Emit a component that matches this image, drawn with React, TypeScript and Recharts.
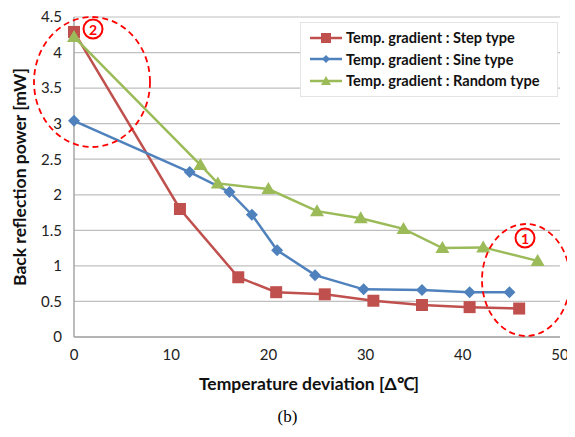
import React from 'react';
import { LineChart, Line, XAxis, YAxis, CartesianGrid } from 'recharts';

// Values
const stepX = [0, 10.9, 16.9, 20.8, 25.8, 30.8, 35.8, 40.7, 45.8];
const stepY = [4.29, 1.8, 0.84, 0.63, 0.6, 0.51, 0.45, 0.42, 0.4];
const sineX = [0, 11.9, 16, 18.3, 20.9, 24.8, 29.8, 35.8, 40.7, 44.8];
const sineY = [3.04, 2.32, 2.04, 1.72, 1.22, 0.87, 0.67, 0.66, 0.63, 0.63];
const randX = [0, 13, 14.8, 20, 25, 29.5, 33.9, 37.9, 42.1, 47.7];
const randY = [4.22, 2.42, 2.16, 2.08, 1.77, 1.67, 1.52, 1.25, 1.26, 1.07];

const xTicks = [0, 10, 20, 30, 40, 50];
const yTicks = [0, 0.5, 1, 1.5, 2, 2.5, 3, 3.5, 4, 4.5];

const seriesNames = [
  'Temp. gradient : Step type',
  'Temp. gradient : Sine type',
  'Temp. gradient : Random type'
];

const COLORS = ['#C0504D', '#4F81BD', '#9BBB59'];
const FONT = 'Lato, "Open Sans", sans-serif';

const toPoints = (xs: number[], ys: number[]) => xs.map((x, i) => ({ x, y: ys[i] }));

const stepData = toPoints(stepX, stepY);
const sineData = toPoints(sineX, sineY);
const randData = toPoints(randX, randY);

const Square = (props: any) => {
  const { cx, cy, index } = props;
  return <rect key={`s-${index}`} x={cx - 6} y={cy - 6} width={12} height={12} fill={COLORS[0]} />;
};

const Diamond = (props: any) => {
  const { cx, cy, index } = props;
  const r = 6;
  return (
    <polygon
      key={`d-${index}`}
      points={`${cx},${cy - r} ${cx + r},${cy} ${cx},${cy + r} ${cx - r},${cy}`}
      fill={COLORS[1]}
    />
  );
};

const Triangle = (props: any) => {
  const { cx, cy, index } = props;
  return (
    <polygon
      key={`t-${index}`}
      points={`${cx},${cy - 7} ${cx + 7},${cy + 5} ${cx - 7},${cy + 5}`}
      fill={COLORS[2]}
    />
  );
};

const markerFor = (i: number, cx: number, cy: number) => {
  if (i === 0) return <rect x={cx - 5} y={cy - 5} width={10} height={10} fill={COLORS[0]} />;
  if (i === 1) return <polygon points={`${cx},${cy - 4} ${cx + 4},${cy} ${cx},${cy + 4} ${cx - 4},${cy}`} fill={COLORS[1]} />;
  return <polygon points={`${cx},${cy - 5} ${cx + 5},${cy + 4} ${cx - 5},${cy + 4}`} fill={COLORS[2]} />;
};

// legend sits over the gridlines like the Excel one, so it is an overlay
const LegendBox = () => (
  <div
    style={{
      position: 'absolute',
      left: 300,
      top: 22,
      width: 258,
      boxSizing: 'border-box',
      background: '#fff',
      border: '1px solid #e4e4e4',
      padding: '4px 6px 4px 8px',
      fontFamily: FONT,
      fontWeight: 700,
      fontSize: 14.6,
      color: '#111'
    }}
  >
    {seriesNames.map((name, i) => (
      <div key={name} style={{ display: 'flex', alignItems: 'center', height: 21.5, whiteSpace: 'nowrap' }}>
        <svg width={34} height={14} style={{ marginRight: 3 }}>
          <line x1={1} y1={7} x2={33} y2={7} stroke={COLORS[i]} strokeWidth={2.5} />
          {markerFor(i, 17, 7)}
        </svg>
        <span>{name}</span>
      </div>
    ))}
  </div>
);

export default function App() {
  return (
    <div style={{ position: 'relative', width: 575, height: 437, margin: -8, background: '#fff' }}>
      <LineChart width={575} height={400} margin={{ top: 17, right: 15, left: 0, bottom: 0 }}>
        <CartesianGrid vertical={false} stroke="#bfbfbf" strokeWidth={1.2} />
        <XAxis
          type="number"
          dataKey="x"
          domain={[0, 50]}
          ticks={xTicks}
          allowDuplicatedCategory={false}
          height={63}
          tickSize={0}
          tickMargin={12}
          stroke="#a6a6a6"
          strokeWidth={1.5}
          tick={{ fill: '#222', fontSize: 15, fontFamily: FONT }}
          label={{
            content: () => (
              <text x={309} y={390} textAnchor="middle" fontFamily={FONT} fontWeight={700} fontSize={17.5} fill="#111">
                Temperature deviation [Δ℃]
              </text>
            )
          }}
        />
        <YAxis
          type="number"
          domain={[0, 4.5]}
          ticks={yTicks}
          width={74}
          tickSize={0}
          tickMargin={12}
          stroke="#a6a6a6"
          strokeWidth={1.5}
          tick={{ fill: '#222', fontSize: 15, fontFamily: FONT }}
          label={{
            content: () => (
              <text
                x={22}
                y={177}
                transform="rotate(-90 22 177)"
                textAnchor="middle"
                dominantBaseline="middle"
                fontFamily={FONT}
                fontWeight={700}
                fontSize={17.5}
                fill="#111"
              >
                Back reflection power [mW]
              </text>
            )
          }}
        />
        <Line
          data={stepData}
          dataKey="y"
          name={seriesNames[0]}
          stroke={COLORS[0]}
          strokeWidth={2.5}
          dot={Square}
          isAnimationActive={false}
        />
        <Line
          data={sineData}
          dataKey="y"
          name={seriesNames[1]}
          stroke={COLORS[1]}
          strokeWidth={2.5}
          dot={Diamond}
          isAnimationActive={false}
        />
        <Line
          data={randData}
          dataKey="y"
          name={seriesNames[2]}
          stroke={COLORS[2]}
          strokeWidth={2.5}
          dot={Triangle}
          isAnimationActive={false}
        />
      </LineChart>

      <LegendBox />

      {/* dashed annotation circles */}
      <svg width={575} height={437} style={{ position: 'absolute', left: 0, top: 0, pointerEvents: 'none' }}>
        <ellipse cx={92} cy={82} rx={58} ry={65} fill="none" stroke="#ff0000" strokeWidth={1.8} strokeDasharray="6 4" />
        <ellipse cx={526} cy={280} rx={44} ry={56} fill="none" stroke="#ff0000" strokeWidth={1.8} strokeDasharray="6 4" />
        <g fontFamily={FONT} fontWeight={700} fill="#ff0000" textAnchor="middle" dominantBaseline="central">
          <circle cx={93} cy={29} r={9.5} fill="none" stroke="#ff0000" strokeWidth={2} />
          <text x={93} y={29.5} fontSize={14}>2</text>
          <circle cx={525} cy={238} r={9.5} fill="none" stroke="#ff0000" strokeWidth={2} />
          <text x={525} y={238.5} fontSize={14}>1</text>
        </g>
      </svg>

      <div
        style={{
          position: 'absolute',
          left: 0,
          width: 575,
          top: 407,
          textAlign: 'center',
          fontFamily: '"Liberation Serif", "Times New Roman", serif',
          fontSize: 17,
          color: '#000'
        }}
      >
        (b)
      </div>
    </div>
  );
}
